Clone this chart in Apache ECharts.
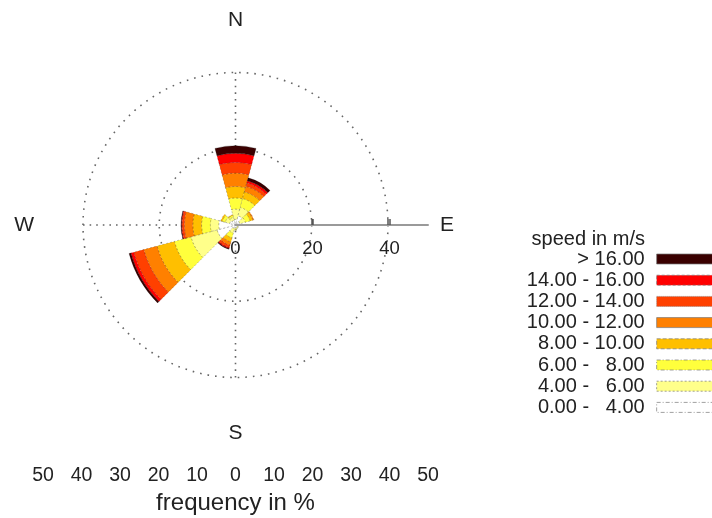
<!DOCTYPE html>
<html><head><meta charset="utf-8">
<script src="https://cdn.jsdelivr.net/npm/echarts@6/dist/echarts.min.js"></script>
<style>html,body{margin:0;padding:0;background:#fff}#c{width:712px;height:518px}</style>
</head><body><div id="c"></div>
<script>
// 12 wind directions (30° sectors, clockwise from North)
const directions = ['N','NNE','ENE','E','ESE','SSE','S','SSW','WSW','W','WNW','NNW'];
const speedClasses = ['0.00 -   4.00','4.00 -   6.00','6.00 -   8.00','8.00 - 10.00','10.00 - 12.00','12.00 - 14.00','14.00 - 16.00','> 16.00'];
// frequency (%) per direction for each speed class
const s0_4   = [1.5, 2.5, 1.2, 0.8, 0.6, 0.7, 0.8, 1.0, 5.0, 4.4, 1.6, 1.3];
const s4_6   = [2.7, 2.3, 1.5, 0.3, 0.2, 0.3, 0.4, 1.2, 7.1, 2.2, 1.2, 0.8];
const s6_8   = [2.9, 2.4, 1.3, 0,   0,   0,   0.2, 1.3, 4.5, 2.3, 0.8, 0.5];
const s8_10  = [3.0, 1.8, 0.7, 0,   0,   0,   0,   1.1, 4.7, 2.3, 0.4, 0.2];
const s10_12 = [3.5, 1.5, 0.3, 0,   0,   0,   0,   0.9, 3.6, 2.2, 0,   0];
const s12_14 = [2.8, 0.9, 0,   0,   0,   0,   0,   0.6, 2.7, 0.6, 0,   0];
const s14_16 = [2.4, 0.6, 0,   0,   0,   0,   0,   0.3, 0.8, 0.2, 0,   0];
const s16p   = [2.0, 0.8, 0,   0,   0,   0,   0,   0.2, 0.5, 0.1, 0,   0];
const classValues = [s0_4, s4_6, s6_8, s8_10, s10_12, s12_14, s14_16, s16p];
const classColors = ['#ffffff','#ffff8a','#ffff3c','#ffbf00','#ff8000','#ff4000','#ff0000','#3a0000'];
const borderTypes = [[4,2,1,2],[2,2],[4,2,1,2],[4,2],'solid',[1,1],[3,2],'solid'];
// tick labels
const scaleTicks = [-50,-40,-30,-20,-10,0,10,20,30,40,50];
const radiusLabels = [0,20,40];
const compass = {0:'{e|E}',90:'{s|S}',180:'{w|W}',270:'{n|N}',360:'{e|E}'};

const FONT = 'Liberation Sans';
const C = [235.5, 225];
const chart = echarts.init(document.getElementById('c'));
const series = classValues.map((vals, i) => ({
  name: speedClasses[i],
  type: 'bar',
  coordinateSystem: 'polar',
  polarIndex: 0,
  stack: 'rose',
  barCategoryGap: '0%',
  data: vals.map(v => v === 0 ? '-' : v),
  itemStyle: {color: classColors[i], borderColor: 'rgba(0,0,0,0.45)', borderWidth: 0.5, borderType: i === 7 ? 'solid' : [2,2]},
  emphasis: {disabled: true},
  z: 3
}));

chart.setOption({
  animation: false,
  backgroundColor: '#fff',
  textStyle: {fontFamily: FONT},
  title: {text: 'speed in m/s', right: 67, top: 229, padding: 0,
    textStyle: {fontFamily: FONT, fontSize: 20, fontWeight: 'normal', color: '#222'}},
  legend: {
    orient: 'vertical', align: 'right', right: -7, top: 248.5, padding: 0,
    icon: 'rect', itemWidth: 62, itemHeight: 10, itemGap: 0.2,
    selectedMode: false,
    textStyle: {fontFamily: FONT, fontSize: 20, color: '#222', lineHeight: 21, padding: [0, 7, 0, 0]},
    data: speedClasses.slice().reverse().map((n) => {
      const i = speedClasses.indexOf(n);
      return {name: n, itemStyle: {color: classColors[i], borderColor: '#777', borderWidth: 0.7, borderType: borderTypes[i]}};
    })
  },
  polar: [
    {center: C, radius: 152.5},
    {center: C, radius: 152.5},
    {center: C, radius: 192.5}
  ],
  angleAxis: [
    {polarIndex: 0, type: 'category', data: directions, startAngle: 105, boundaryGap: true,
      axisLine: {show: false}, axisTick: {show: false}, axisLabel: {show: false}, splitLine: {show: false}},
    {polarIndex: 1, type: 'value', min: 0, max: 360, interval: 90, startAngle: 0,
      axisLine: {show: false}, axisTick: {show: false},
      splitLine: {show: true, lineStyle: {color: '#666', width: 1.6, type: [1.6, 5]}},
      axisLabel: {show: true, margin: 42, formatter: v => compass[v] || '',
        rich: {
          n: {fontFamily: FONT, fontSize: 21, color: '#222'},
          e: {fontFamily: FONT, fontSize: 21, color: '#222', padding: [0, 0, 0, 10]},
          w: {fontFamily: FONT, fontSize: 21, color: '#222', padding: [0, 7, 0, 0]},
          s: {fontFamily: FONT, fontSize: 21, color: '#222', padding: [3, 0, 0, 0]}
        }}},
    {polarIndex: 2, type: 'value', min: 0, max: 360, startAngle: 0,
      axisLine: {show: false}, axisTick: {show: false}, axisLabel: {show: false}, splitLine: {show: false}}
  ],
  radiusAxis: [
    {polarIndex: 0, type: 'value', min: 0, max: 40, interval: 20,
      axisLine: {show: false}, axisTick: {show: false}, axisLabel: {show: false},
      splitLine: {show: true, lineStyle: {color: '#666', width: 1.6, type: [1.6, 6]}}},
    {polarIndex: 1, type: 'value', min: 0, max: 40, interval: 20, z: 10,
      axisLine: {show: false}, axisLabel: {show: false}, splitLine: {show: false},
      axisTick: {show: true, inside: true, length: 6, customValues: [20, 40], lineStyle: {color: '#555', width: 1.5}}},
    {polarIndex: 2, type: 'value', min: 0, max: 50, interval: 10, z: 10,
      axisLine: {show: true, lineStyle: {color: '#9a9a9a', width: 2}},
      axisTick: {show: true, length: 6, customValues: [20, 40], lineStyle: {color: '#555', width: 1.5}},
      splitLine: {show: false},
      axisLabel: {show: true, customValues: radiusLabels, margin: -14, verticalAlign: 'top',
        fontFamily: FONT, fontSize: 18.5, color: '#222',
        formatter: v => radiusLabels.indexOf(v) >= 0 ? String(v) : ''}}
  ],
  grid: {left: 43, width: 385, top: 455, height: 1},
  xAxis: {type: 'value', min: -50, max: 50, interval: 10,
    axisLine: {show: false}, axisTick: {show: false}, splitLine: {show: false},
    axisLabel: {margin: 10, fontFamily: FONT, fontSize: 19.5, color: '#222',
      customValues: scaleTicks, formatter: v => String(Math.abs(v))},
    name: 'frequency in %', nameLocation: 'middle', nameGap: 35,
    nameTextStyle: {fontFamily: FONT, fontSize: 24, color: '#222'}},
  yAxis: {type: 'value', show: false},
  series: series
});
</script></body></html>
